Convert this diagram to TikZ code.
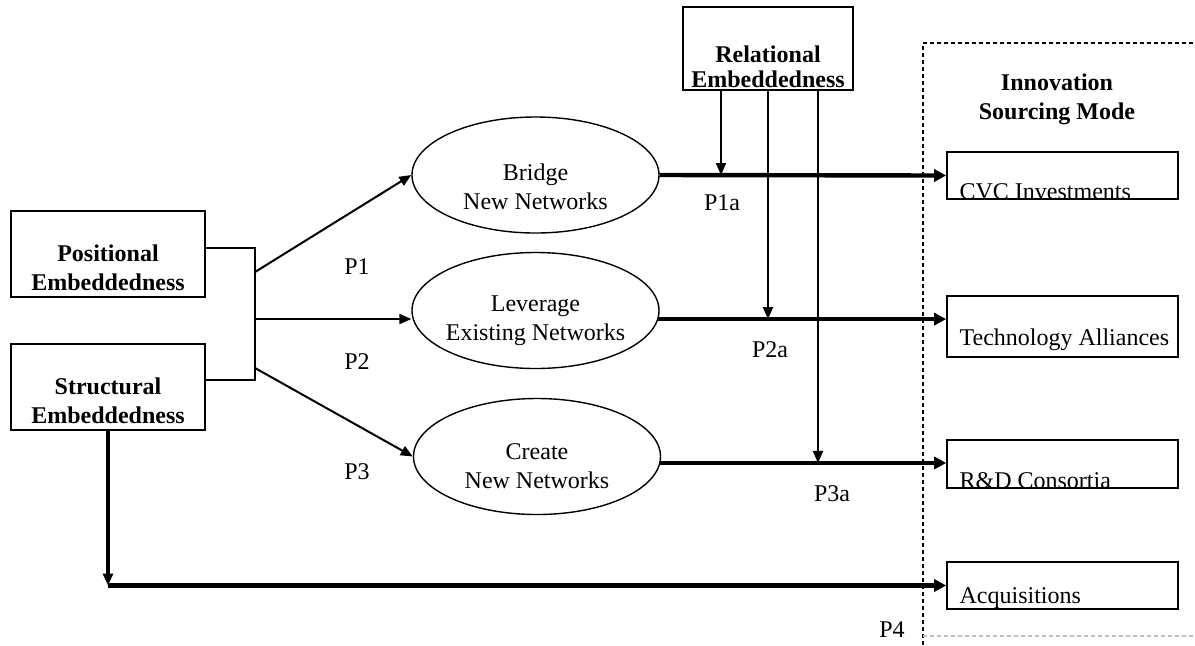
\documentclass[tikz,border=0pt]{standalone}
\usepackage{fontspec}
\setmainfont{Liberation Serif}
\usepackage{tikz}
\usetikzlibrary{arrows.meta,shapes.geometric,calc}

\begin{document}
\begin{tikzpicture}[
    x=0.5pt, y=-0.5pt,
    every node/.style={font=\fontsize{12pt}{14.5pt}\selectfont},
    txt/.style={align=center, inner sep=0pt},
    boldtxt/.style={txt, font=\fontsize{12pt}{14.5pt}\selectfont\bfseries},
    embbox/.style={
      rectangle, draw, line width=0.8pt, inner sep=0pt,
      minimum width=97pt, minimum height=43pt
    },
    modebox/.style={
      rectangle, draw, line width=0.8pt, inner sep=0pt,
      minimum width=115.5pt
    },
    oval/.style={
      ellipse, draw, line width=0.7pt, inner sep=0pt,
      minimum width=123.5pt, minimum height=58pt
    },
    line/.style={line width=1pt},
    arr/.style={-{Triangle[length=6pt, width=5pt]}, line width=1pt},
    bigarr/.style={-{Triangle[length=6pt, width=6pt]}, line width=2.2pt}
  ]
    \useasboundingbox (0,0) rectangle (1195,645);

    % ── Embeddedness ──
    \node[embbox, label={[boldtxt, yshift=-7pt]center:Positional\\Embeddedness}] (pos) at (108,254) {};
    \node[embbox, label={[boldtxt, yshift=-7pt]center:Structural\\Embeddedness}] (struct) at (108,387) {};
    \node[embbox, minimum width=85pt, minimum height=41.5pt,
          label={[boldtxt, font=\fontsize{12pt}{12.5pt}\selectfont\bfseries, yshift=-9pt]center:Relational\\Embeddedness}] (rel) at (768,48.5) {};

    % ── Network strategies ──
    \node[oval, label={[txt, yshift=-6pt]center:Bridge\\New Networks}] (bridge) at (535.5,175) {};
    \node[oval, label={[txt, yshift=-5pt]center:Leverage\\Existing Networks}] (lev) at (535.5,310.5) {};
    \node[oval, label={[txt, yshift=-5pt]center:Create\\New Networks}] (create) at (537,456.5) {};

    % ── Innovation sourcing modes ──
    \draw[line width=0.8pt, dash pattern=on 2pt off 1.5pt] (923,645) -- (923,43) -- (1195,43);
    \draw[line width=0.6pt, gray!50, dash pattern=on 2pt off 1.5pt] (923,636) -- (1195,636);
    \node[boldtxt] (ismode) at (1057,99) {Innovation\\Sourcing Mode};
    \node[modebox, minimum height=23.5pt,
          label={[txt, anchor=base west, xshift=6.5pt, yshift=0pt]south west:CVC Investments}] (cvc) at (1062.5,175.5) {};
    \node[modebox, minimum height=30.5pt,
          label={[txt, anchor=base west, xshift=6.5pt, yshift=6pt]south west:Technology Alliances}] (tech) at (1062.5,326.5) {};
    \node[modebox, minimum height=24pt,
          label={[txt, anchor=base west, xshift=6.5pt, yshift=0pt]south west:R\&D Consortia}] (rnd) at (1062.5,464) {};
    \node[modebox, minimum height=23.5pt,
          label={[txt, anchor=base west, xshift=6.5pt, yshift=3pt]south west:Acquisitions}] (acq) at (1062.5,585.5) {};

    % ── Proposition labels ──
    \node[txt] (p1) at (357,267) {P1};
    \node[txt] (p2) at (357,362) {P2};
    \node[txt] (p3) at (357,472) {P3};
    \node[txt] (p1a) at (722,203) {P1a};
    \node[txt] (p2a) at (770,350) {P2a};
    \node[txt] (p3a) at (832,494) {P3a};
    \node[txt] (p4) at (892,630) {P4};

    % ── Bracket: Positional + Structural ──
    \coordinate (brtop) at (255,248);
    \coordinate (brbot) at (255,380);
    \coordinate (b1) at (255,272);
    \coordinate (b2) at (255,319);
    \coordinate (b3) at (255,368);
    \draw[line] ([yshift=3pt]pos.east) -- (brtop) -- (brbot) -- ([yshift=3.5pt]struct.east);

    % ── Arrows: Embeddedness -> Networks ──
    \draw[arr] (b1) -- (bridge.west);
    \draw[arr] (b2) -- (b2 -| lev.west);
    \draw[arr] (b3) -- (create.west);

    % ── Arrows: Networks -> Sourcing mode ──
    \draw[bigarr] (bridge.east) -- (cvc.west);
    \draw[bigarr] (lev.-4.5) -- (lev.-4.5 -| tech.west);
    \draw[bigarr] (create.-3.5) -- (create.-3.5 -| rnd.west);

    % ── Arrows: Relational moderation ──
    \draw[arr] ([xshift=-23.5pt]rel.south) -- ([xshift=-23.5pt]rel.south |- bridge.east);
    \draw[arr] (rel.south) -- (rel.south |- lev.-4.5);
    \draw[arr] ([xshift=25pt]rel.south) -- ([xshift=25pt]rel.south |- create.-3.5);

    % ── Arrows: Structural -> Acquisitions ──
    \draw[arr, line width=1.8pt] (struct.south) -- (struct.south |- acq.west);
    \draw[bigarr] (struct.south |- acq.west) -- (acq.west);

  \end{tikzpicture}
\end{document}
